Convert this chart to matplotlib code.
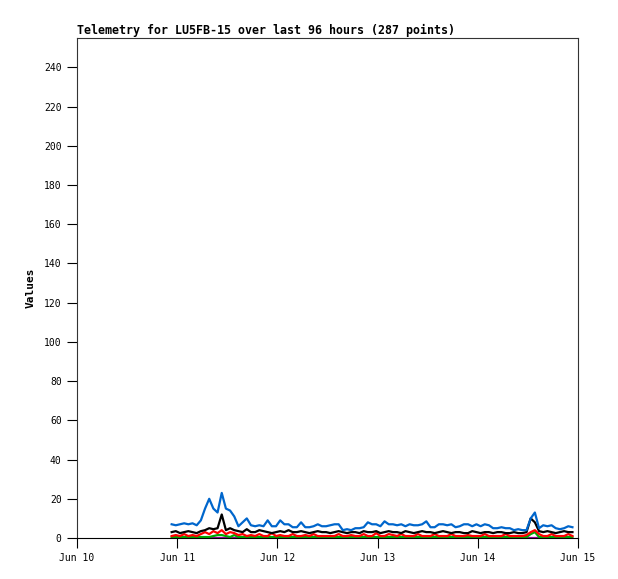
import pandas as pd
import matplotlib.pyplot as plt
import matplotlib.dates as mdates

# hourly telemetry readings, LU5FB-15
tempo = pd.date_range('2024-06-10 22:40', periods=97, freq='h')

azul = [7, 6.5, 7, 7.5, 7, 7.5, 6.5, 9, 15, 20, 15, 13, 23, 15, 14, 11, 6, 8, 10, 6.5,
        6, 6.5, 6, 9, 6, 6, 9, 7, 7, 5.5, 5.5, 8, 5.5, 5.5, 6, 7, 6, 6, 6.5, 7,
        7, 4, 4.5, 4, 5, 5, 5.5, 8, 7, 7, 6, 8.5, 7, 7, 6.5, 7, 6, 7, 6.5, 6.5,
        7, 8.5, 5.5, 5.5, 7, 7, 6.5, 7, 5.5, 6, 7, 7, 6, 7, 6, 7, 6.5, 5, 5, 5.5,
        5, 5, 4, 4.5, 4, 4, 10, 13, 5, 6.5, 6, 6.5, 5, 4.5, 5, 6, 5.5]
preto = [3, 3.5, 2.5, 3, 3.5, 3, 2.5, 3.5, 4, 5, 4.5, 5, 12, 4, 5, 4, 3.5, 3, 4.5, 3,
         3, 4, 3.5, 3, 2.5, 3, 3.5, 3, 4, 3, 3, 3.5, 3, 2.5, 3, 3.5, 3, 3, 2.5, 3,
         3.5, 3, 2.5, 3, 3, 2.5, 3.5, 3, 3, 3.5, 2.5, 3, 3.5, 3, 3, 2.5, 3.5, 3, 2.5, 3,
         3.5, 3, 3, 2.5, 3, 3.5, 3, 2.5, 3, 3, 2.5, 2.5, 3.5, 3, 2.5, 3, 3, 2.5, 3, 3,
         2.5, 2.5, 3, 2.5, 2.5, 3, 10, 8, 3.5, 3, 3.5, 3, 2.5, 3, 3.5, 3, 3]
vermelho = [1, 1.5, 1, 2, 1, 1.5, 1, 2, 3, 2, 3.5, 2.5, 4, 2, 3, 2.5, 1.5, 2, 1, 1.5,
            1, 2, 1, 1, 2.5, 1, 1.5, 1, 1, 2, 1, 1, 1.5, 1, 2, 1, 1, 1, 1, 1,
            2, 1, 1, 1.5, 1, 1, 2, 1, 1, 2.5, 1, 1, 2, 1.5, 1, 2, 1, 1, 1, 2,
            1, 1, 1, 2, 1, 1, 1, 2, 1, 1, 1, 1.5, 1, 1, 1, 2, 1, 1, 1, 1,
            2, 1, 1, 1, 1, 1.5, 3, 4, 2, 1, 1, 2, 1, 1, 1, 2, 1]
verde = [0.5, 0.5, 0.5, 0.5, 0.5, 0.5, 0.5, 0.5, 0.5, 0.5, 1, 1.5, 1.5, 1, 0.5, 1.5, 0.5, 0.5, 0.5, 0.5,
         0.5, 0.5, 0.5, 0.5, 0.5, 0.5, 0.5, 0.5, 0.5, 0.5, 0.5, 0.5, 0.5, 0.5, 0.5, 0.5, 0.5, 0.5, 0.5, 0.5,
         0.5, 0.5, 0.5, 0.5, 0.5, 0.5, 0.5, 0.5, 0.5, 0.5, 0.5, 0.5, 0.5, 0.5, 0.5, 0.5, 0.5, 0.5, 0.5, 0.5,
         0.5, 0.5, 0.5, 0.5, 0.5, 0.5, 0.5, 0.5, 0.5, 0.5, 0.5, 0.5, 0.5, 0.5, 0.5, 0.5, 0.5, 0.5, 0.5, 0.5,
         0.5, 0.5, 0.5, 0.5, 0.5, 0.5, 2, 3, 0.5, 0.5, 0.5, 0.5, 0.5, 0.5, 0.5, 0.5, 0.5]
roxo = [0] * 97

fig = plt.figure(figsize=(6.18, 5.79), dpi=100)
ax = fig.add_axes([0.1246, 0.0708, 0.8107, 0.8636])

ax.plot(tempo, roxo, color='#990099', lw=1.6)
ax.plot(tempo, verde, color='#00aa00', lw=1.6)
ax.plot(tempo, vermelho, color='#ff0000', lw=1.6)
ax.plot(tempo, preto, color='#000000', lw=1.6)
ax.plot(tempo, azul, color='#0066cc', lw=1.6)

ax.set_xlim(pd.Timestamp('2024-06-10'), pd.Timestamp('2024-06-15'))
ax.set_ylim(0, 255)
ax.set_yticks(range(0, 241, 20))
ax.xaxis.set_major_locator(mdates.DayLocator())
ax.xaxis.set_major_formatter(mdates.DateFormatter('%b %d'))

ax.tick_params(direction='out', length=7, labelsize=7, colors='black', pad=4)
for lbl in ax.get_xticklabels() + ax.get_yticklabels():
    lbl.set_family('DejaVu Sans Mono')
for s in ax.spines.values():
    s.set_color('#333333')
ax.spines['bottom'].set_color('black')

ax.set_ylabel('Values', fontsize=8, fontweight='bold', family='DejaVu Sans Mono', labelpad=6)
ax.set_title('Telemetry for LU5FB-15 over last 96 hours (287 points)', loc='left',
             fontsize=8.4, fontweight='bold', family='DejaVu Sans Mono', pad=3)

plt.savefig('out.png', dpi=100)
